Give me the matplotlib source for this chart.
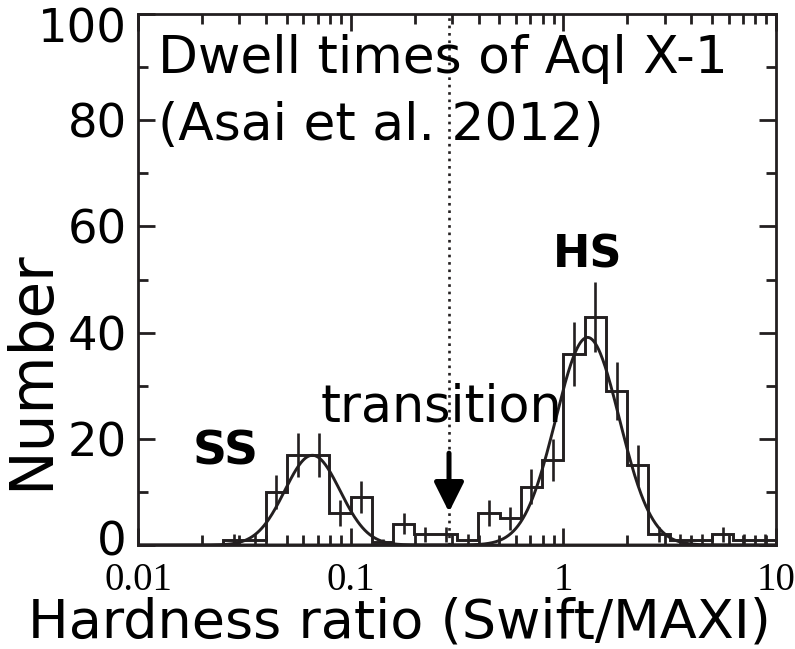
import numpy as np
import matplotlib
matplotlib.use("Agg")
import matplotlib.pyplot as plt
import matplotlib.transforms as mtransforms
from matplotlib.ticker import MultipleLocator, LogLocator, NullFormatter

# histogram of hardness ratio, bins of 0.1 dex
log_edges = [-1.6, -1.5, -1.4, -1.3, -1.2, -1.1, -1.0, -0.9, -0.8, -0.7,
             -0.6, -0.5, -0.4, -0.3, -0.2, -0.1, 0.0, 0.1, 0.2, 0.3,
             0.4, 0.5, 0.6, 0.7, 0.8, 0.9, 1.0]
counts = [1, 1, 10, 17, 17, 6, 9, 0.5, 4, 2, 2, 1,
          6, 5, 11, 16, 36, 43, 29, 15, 2, 1, 1, 2, 1, 1]
errors = [1.0, 1.0, 3.2, 4.1, 4.1, 2.4, 3.0, 0.7, 2.0, 1.4, 1.4, 1.0,
          2.4, 2.2, 3.3, 4.0, 6.0, 6.6, 5.4, 3.9, 1.4, 1.0, 1.0, 1.4, 1.0, 1.0]

# gaussian fits in log10(ratio): amplitude, centre, sigma (dex)
ss_fit = (16.9, -1.18, 0.13)
hs_fit = (39.1, 0.114, 0.15)

transition_ratio = 0.29
arrow_top, arrow_tip = 17.3, 6.2

xtick_vals = [0.01, 0.1, 1, 10]
xtick_labels = ["0.01", "0.1", "1", "10"]
ytick_vals = [0, 20, 40, 60, 80, 100]

ink = "#231f20"
plt.rcParams["font.family"] = ["DejaVu Sans"]

fig = plt.figure(figsize=(7.95, 6.49), dpi=100)
ax = fig.add_axes([0.1736, 0.1602, 0.8025, 0.8182])

edges = 10 ** np.array(log_edges)
centers = 10 ** ((np.array(log_edges[:-1]) + np.array(log_edges[1:])) / 2)

ax.stairs(counts, edges, color=ink, lw=2.1)
ax.errorbar(centers, counts, yerr=errors, fmt="none", ecolor=ink, elinewidth=1.9, capsize=0)

xx = np.logspace(-2, 1, 800)
for amp, mu, sig in (ss_fit, hs_fit):
    ax.plot(xx, amp * np.exp(-0.5 * ((np.log10(xx) - mu) / sig) ** 2), color=ink, lw=2.1)

ax.axvline(transition_ratio, color=ink, lw=1.9, ls=(0, (1, 1.8)))
ax.annotate("", xy=(transition_ratio, arrow_tip), xytext=(transition_ratio, arrow_top),
            arrowprops=dict(arrowstyle="-|>,head_width=0.45,head_length=0.9",
                            mutation_scale=20, lw=3.6, color="black",
                            shrinkA=0, shrinkB=0))

ax.set_xscale("log")
ax.set_xlim(0.01, 10)
ax.set_ylim(0, 100)

ax.set_xticks(xtick_vals, labels=xtick_labels)
ax.xaxis.set_minor_locator(LogLocator(base=10, subs=np.arange(2, 10)))
ax.xaxis.set_minor_formatter(NullFormatter())
ax.set_yticks(ytick_vals)
ax.yaxis.set_minor_locator(MultipleLocator(10))

ax.tick_params(which="both", direction="in", top=True, right=True, color=ink, width=2)
ax.tick_params(which="major", length=12)
ax.tick_params(which="minor", length=7)
ax.tick_params(axis="y", labelsize=33.5, pad=8)
ax.tick_params(axis="x", labelsize=28, pad=12)
for lab in ax.get_xticklabels():
    lab.set_fontfamily("Liberation Serif")
for sp in ax.spines.values():
    sp.set_linewidth(2)
    sp.set_color(ink)

# nudge the end labels on the y axis so they stay clear of the frame corners
yticks = ax.yaxis.get_major_ticks()
for tick, dy in ((yticks[-1], -8), (yticks[0], 5)):
    tick.label1.set_transform(tick.label1.get_transform()
                              + mtransforms.ScaledTranslation(0, dy / 72, fig.dpi_scale_trans))

ax.set_xlabel("Hardness ratio (Swift/MAXI)", fontsize=39, va="center")
ax.xaxis.set_label_coords(0.41, -0.146)
ax.set_ylabel("Number", fontsize=43, va="center")
ax.yaxis.set_label_coords(-0.166, 0.33)

ax.text(0.031, 0.889, "Dwell times of Aql X-1", transform=ax.transAxes,
        fontsize=37.4, va="baseline", ha="left")
ax.text(0.031, 0.763, "(Asai et al. 2012)", transform=ax.transAxes,
        fontsize=37.4, va="baseline", ha="left")
ax.text(0.287, 0.232, "transition", transform=ax.transAxes,
        fontsize=36.5, va="baseline", ha="left")
ax.text(0.650, 0.522, "HS", transform=ax.transAxes,
        fontsize=32, fontweight="bold", va="baseline", ha="left")
ax.text(0.086, 0.151, "SS", transform=ax.transAxes,
        fontsize=34, fontweight="bold", va="baseline", ha="left")

fig.savefig("out.png", dpi=100)
